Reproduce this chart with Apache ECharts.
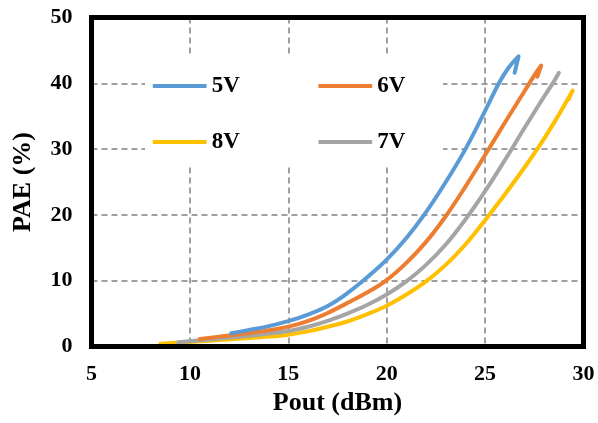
<!DOCTYPE html>
<html>
<head>
<meta charset="utf-8">
<script src="https://cdn.jsdelivr.net/npm/echarts@6/dist/echarts.min.js"></script>
<style>
  html, body { margin: 0; padding: 0; background: #fff; }
  #chart { width: 598px; height: 423px; }
</style>
</head>
<body>
<div id="chart"></div>
<script>
// PAE versus output power for four supply voltages: [Pout (dBm), PAE (%)]
const pae5V = [[12.1, 2.0], [13, 2.5], [14, 3.1], [15, 3.85], [16, 4.85], [17, 6.15], [18, 8.1], [19, 10.5], [20, 13.2], [21, 16.5], [21.9, 20.0], [22.9, 24.5], [24.0, 30.0], [25.0, 35.8], [25.7, 40.0], [26.2, 42.4], [26.7, 44.1], [26.5, 41.6]];
const pae6V = [[10.5, 1.15], [11.5, 1.5], [12.5, 1.85], [13.5, 2.25], [14.5, 2.7], [15.5, 3.4], [16.3, 4.2], [17, 5.1], [18, 6.6], [19, 8.2], [20, 10.1], [21, 12.7], [22, 15.9], [23, 19.8], [24, 24.3], [25, 29.1], [26, 34.0], [27, 38.8], [27.5, 41.2], [27.85, 42.7], [27.65, 41.0]];
const pae7V = [[9.4, 0.65], [10.5, 0.95], [12, 1.35], [13.5, 1.8], [15, 2.35], [16, 3.0], [17, 3.9], [18, 5.0], [19, 6.3], [20, 7.9], [21, 9.9], [22, 12.4], [23, 15.5], [24, 19.3], [25, 23.6], [26, 28.3], [27, 33.2], [28, 38.0], [28.5, 40.3], [28.75, 41.6]];
const pae8V = [[8.5, 0.4], [10, 0.7], [11.5, 1.0], [13, 1.3], [14, 1.5], [15, 1.8], [16, 2.3], [17, 3.0], [18, 3.8], [19, 4.9], [20, 6.2], [21, 7.9], [22, 9.9], [23, 12.4], [24, 15.5], [25, 19.2], [26, 23.1], [27, 27.2], [28, 31.6], [28.8, 35.5], [29.45, 38.9], [29.25, 37.6]];

const legendRow1 = ['5V', '6V'];
const legendRow2 = ['8V', '7V'];

const xRange = { min: 5, max: 30, interval: 5 };
const yRange = { min: 0, max: 50, interval: 10 };

const serif = '"Liberation Serif", "Times New Roman", serif';

function curve(name, data, color) {
  return {
    name: name,
    type: 'line',
    data: data,
    smooth: 0.4,
    showSymbol: false,
    symbol: 'none',
    color: color,
    lineStyle: { color: color, width: 4, cap: 'round', join: 'round' }
  };
}

function legendRow(names, top) {
  return {
    data: names,
    left: 152.7,
    top: top,
    orient: 'horizontal',
    icon: 'roundRect',
    itemWidth: 54,
    itemHeight: 4,
    itemGap: 78.5,
    padding: 0,
    textStyle: { fontFamily: serif, fontWeight: 'bold', fontSize: 23, color: '#000', lineHeight: 24 }
  };
}

const gridDash = { show: true, showMinLine: false, showMaxLine: false, lineStyle: { color: '#808080', width: 1.5, type: [6, 4] } };

const chart = echarts.init(document.getElementById('chart'), null, { renderer: 'canvas' });
chart.setOption({
  animation: false,
  backgroundColor: '#fff',
  grid: {
    left: 91.5, right: 14.5, top: 17.5, bottom: 76.5,
    show: true, borderColor: '#000', borderWidth: 5, backgroundColor: 'transparent'
  },
  xAxis: {
    type: 'value',
    min: xRange.min, max: xRange.max, interval: xRange.interval,
    name: 'Pout (dBm)', nameLocation: 'middle', nameGap: 44,
    nameTextStyle: { fontFamily: serif, fontWeight: 'bold', fontSize: 26, color: '#000' },
    axisLine: { show: false },
    axisTick: { show: false },
    axisLabel: { margin: 17, fontFamily: serif, fontWeight: 'bold', fontSize: 22, color: '#000' },
    splitLine: gridDash
  },
  yAxis: {
    type: 'value',
    min: yRange.min, max: yRange.max, interval: yRange.interval,
    name: 'PAE (%)', nameLocation: 'middle', nameGap: 55, nameRotate: 90,
    nameTextStyle: { fontFamily: serif, fontWeight: 'bold', fontSize: 26, color: '#000' },
    axisLine: { show: false },
    axisTick: { show: false },
    axisLabel: { margin: 19, fontFamily: serif, fontWeight: 'bold', fontSize: 22, color: '#000' },
    splitLine: gridDash
  },
  legend: [legendRow(legendRow1, 74), legendRow(legendRow2, 130)],
  graphic: [
    {
      // white panel behind the legend rows, hiding the grid there
      type: 'rect',
      z: 1,
      shape: { x: 145, y: 55, width: 298, height: 112 },
      style: { fill: '#fff' }
    },
    {
      // heavy rounded plot frame
      type: 'rect',
      z: 10,
      shape: { x: 91.5, y: 17.5, width: 492, height: 329, r: 3 },
      style: { fill: 'none', stroke: '#000', lineWidth: 5 }
    }
  ],
  series: [
    curve('8V', pae8V, '#FFC000'),
    curve('7V', pae7V, '#A5A5A5'),
    curve('6V', pae6V, '#ED7D31'),
    curve('5V', pae5V, '#5B9BD5')
  ]
});
</script>
</body>
</html>
